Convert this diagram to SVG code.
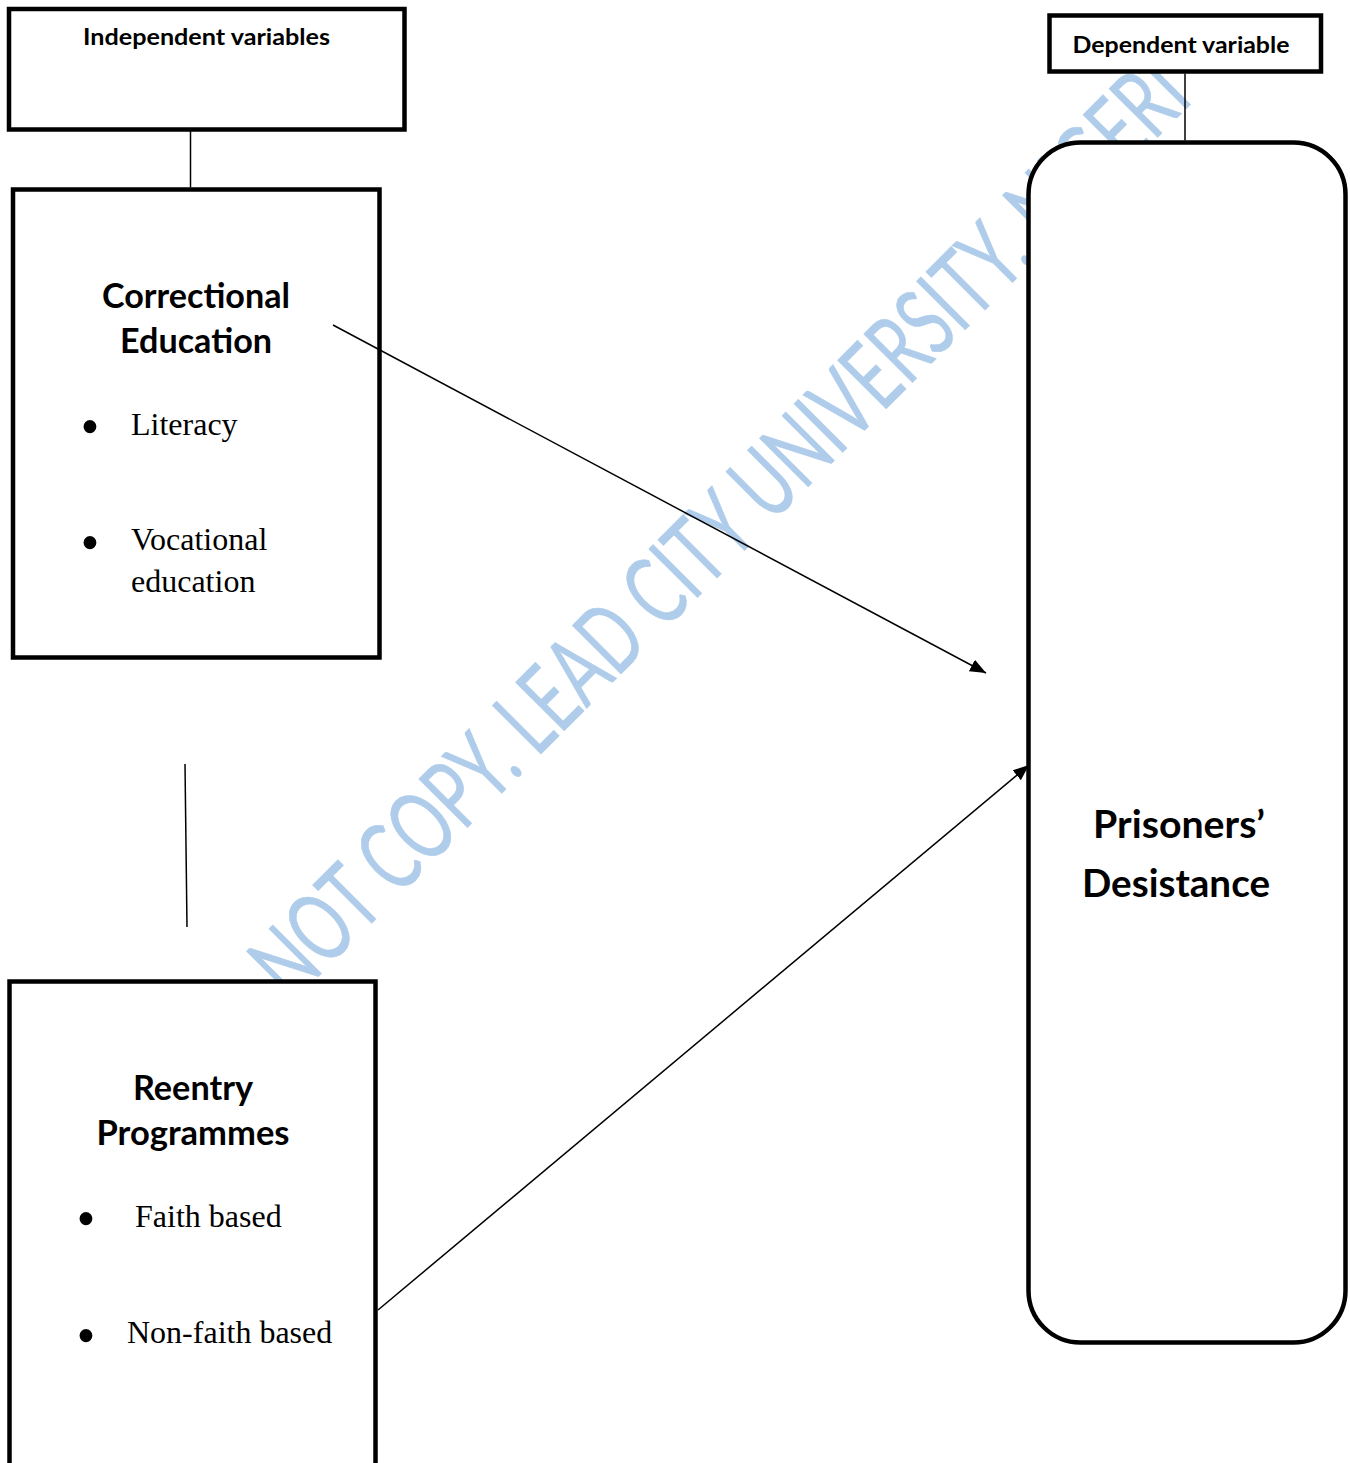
<svg xmlns="http://www.w3.org/2000/svg" width="1350" height="1463" viewBox="0 0 1350 1463">
<style>
  .box { fill: #ffffff; stroke: #000000; stroke-width: 4.5; }
  .conn { stroke: #000000; stroke-width: 1.5; fill: none; }
  .hdr { font-family: Lato, "Open Sans", "Liberation Sans", sans-serif; font-weight: bold; font-size: 23.7px; fill: #000; text-anchor: middle; }
  .title { font-family: Lato, "Open Sans", "Liberation Sans", sans-serif; font-weight: bold; font-size: 33.5px; fill: #000; text-anchor: middle; }
  .big { font-family: Lato, "Open Sans", "Liberation Sans", sans-serif; font-weight: bold; font-size: 39px; fill: #000; text-anchor: middle; }
  .item { font-family: "Liberation Serif", "Times New Roman", serif; font-size: 32px; fill: #000; }
  .bul { font-family: "Liberation Serif", "Times New Roman", serif; font-size: 54px; fill: #000; text-anchor: middle; }
  .wm { font-family: Lato, "Open Sans", "Liberation Sans", sans-serif; font-weight: normal; font-size: 62px; fill: #afcdea; stroke: #afcdea; stroke-width: 0.4; }
</style>
<defs>
  <marker id="arrow" markerUnits="userSpaceOnUse" markerWidth="18" markerHeight="14" refX="16" refY="6.5" orient="auto">
    <path d="M0,0 L16,6.5 L0,13 z" fill="#000"/>
  </marker>
</defs>
<rect width="1350" height="1463" fill="#ffffff"/>

<g id="watermark">
  <text class="wm" transform="translate(291,1004) rotate(-45) scale(1,1.55)" textLength="1278" lengthAdjust="spacingAndGlyphs">NOT COPY. LEAD CITY UNIVERSITY, NIGERI</text>
</g>

<g id="independent-variables">
  <rect class="box" x="9" y="9" width="395.5" height="120.5" stroke-width="4"/>
  <text class="hdr" x="206.5" y="45" textLength="247" lengthAdjust="spacingAndGlyphs">Independent variables</text>
</g>

<g id="correctional-education">
  <rect class="box" x="13" y="189.5" width="366.5" height="468"/>
  <text class="title" x="196" y="308" textLength="188" lengthAdjust="spacingAndGlyphs">Correctional</text>
  <text class="title" x="196" y="353" textLength="152" lengthAdjust="spacingAndGlyphs">Education</text>
  <text class="bul" x="90" y="445">•</text>
  <text class="item" x="131" y="435">Literacy</text>
  <text class="bul" x="90" y="561">•</text>
  <text class="item" x="131" y="550">Vocational</text>
  <text class="item" x="131" y="592">education</text>
</g>

<g id="reentry-programmes">
  <rect class="box" x="9.5" y="981.5" width="366" height="520"/>
  <text class="title" x="193" y="1100" textLength="120" lengthAdjust="spacingAndGlyphs">Reentry</text>
  <text class="title" x="193" y="1145" textLength="193" lengthAdjust="spacingAndGlyphs">Programmes</text>
  <text class="bul" x="86" y="1237">•</text>
  <text class="item" x="135" y="1227">Faith based</text>
  <text class="bul" x="86" y="1354">•</text>
  <text class="item" x="127" y="1343">Non-faith based</text>
</g>

<g id="dependent-variable">
  <rect class="box" x="1049.5" y="15.5" width="271.5" height="56"/>
  <text class="hdr" x="1181" y="53.3" textLength="217" lengthAdjust="spacingAndGlyphs">Dependent variable</text>
</g>

<g id="prisoners-desistance">
  <rect class="box" x="1028.5" y="142.5" width="317" height="1200" rx="52" ry="52"/>
  <text class="big" x="1179" y="838" textLength="172" lengthAdjust="spacingAndGlyphs">Prisoners’</text>
  <text class="big" x="1176" y="897" textLength="188" lengthAdjust="spacingAndGlyphs">Desistance</text>
</g>

<g id="connectors">
  <line class="conn" x1="190.5" y1="131" x2="190.5" y2="187.5"/>
  <line class="conn" x1="1185" y1="73.5" x2="1185" y2="140.5"/>
  <line class="conn" x1="185" y1="764" x2="187" y2="927"/>
  <line class="conn" x1="333" y1="325" x2="986" y2="673" marker-end="url(#arrow)"/>
  <line class="conn" x1="378" y1="1310" x2="1029" y2="765" marker-end="url(#arrow)"/>
</g>
</svg>
